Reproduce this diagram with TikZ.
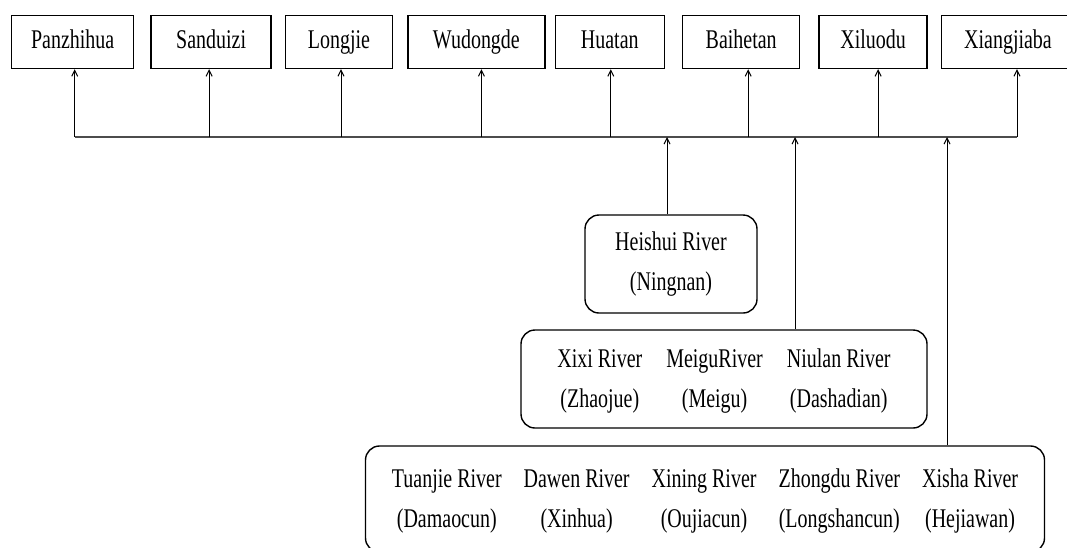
\documentclass[tikz,border=0pt]{standalone}
\usepackage{fontspec}
\setmainfont{Liberation Serif}[FakeStretch=0.74]
\usetikzlibrary{arrows.meta,positioning}
\begin{document}
\begin{tikzpicture}[
x=1pt, y=-1pt,
node distance=14pt,
damBox/.style={draw, line width=1.4pt, font=\fontsize{27}{30}\selectfont, minimum height=53pt, text height=18pt, text depth=5pt, inner xsep=0pt},
riverBox/.style={draw, line width=1.4pt, rounded corners=14pt, font=\fontsize{27}{40}\selectfont, align=center, minimum height=98pt},
arrow/.style={-{Straight Barb[length=6pt,width=6pt]}, line width=1pt},
bus/.style={line width=2.2pt, black!70}
]
\useasboundingbox (0,0) rectangle (1067,547);
% dams on the main stream
\node[damBox, minimum width=122pt, anchor=west] (panzhihua) at (11,42) {Panzhihua};
\node[damBox, minimum width=120pt, right=16pt of panzhihua] (sanduizi) {Sanduizi};
\node[damBox, minimum width=107pt, right=13pt of sanduizi] (longjie) {Longjie};
\node[damBox, minimum width=137pt, right=of longjie] (wudongde) {Wudongde};
\node[damBox, minimum width=109pt, right=9pt of wudongde] (huatan) {Huatan};
\node[damBox, minimum width=117pt, right=17pt of huatan] (baihetan) {Baihetan};
\node[damBox, minimum width=108pt, right=18pt of baihetan] (xiluodu) {Xiluodu};
\node[damBox, minimum width=133pt, right=13pt of xiluodu] (xiangjiaba) {Xiangjiaba};
% tributaries
\node[riverBox, minimum width=172pt] (heishui) at (671,264) {Heishui River\\(Ningnan)};
\node[riverBox, minimum width=406pt] (xixi) at (724,379) {\setlength{\tabcolsep}{12pt}%
\begin{tabular}{@{}ccc@{}}
Xixi River & MeiguRiver & Niulan River\\
(Zhaojue) & (Meigu) & (Dashadian)
\end{tabular}};
\node[riverBox, minimum width=679pt, minimum height=106pt] (tuanjie) at (705,499) {\setlength{\tabcolsep}{11pt}%
\begin{tabular}{@{}ccccc@{}}
Tuanjie River & Dawen River & Xining River & Zhongdu River & Xisha River\\
(Damaocun) & (Xinhua) & (Oujiacun) & (Longshancun) & (Hejiawan)
\end{tabular}};
% bus line
\coordinate (bus) at (0,137);
\draw[bus] ([xshift=2pt]panzhihua.south |- bus) -- ([xshift=9pt]xiangjiaba.south |- bus);
\foreach \d/\s in {panzhihua/2,sanduizi/-2,longjie/2,wudongde/5,huatan/1,baihetan/7,xiluodu/5,xiangjiaba/9}
  \draw[arrow] ([xshift=\s pt]\d.south |- bus) -- ([xshift=\s pt]\d.south);
\draw[arrow] ([xshift=-4pt]heishui.north) -- ([xshift=-4pt]heishui.north |- bus);
\draw[arrow] ([xshift=71pt]xixi.north) -- ([xshift=71pt]xixi.north |- bus);
\draw[arrow] ([xshift=242pt]tuanjie.north) -- ([xshift=242pt]tuanjie.north |- bus);
\end{tikzpicture}
\end{document}
